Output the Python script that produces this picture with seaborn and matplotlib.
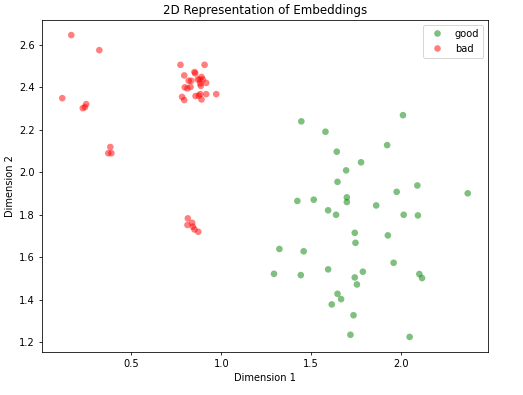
import matplotlib
matplotlib.use("Agg")
import matplotlib.pyplot as plt
import seaborn as sns
import pandas as pd

good_x = [1.445, 2.010, 1.579, 1.922, 1.642, 1.777, 1.694, 1.646, 2.090, 2.370,
          1.975, 1.423, 1.514, 1.698, 1.698, 1.861, 1.594, 1.638, 2.014, 2.093,
          1.742, 1.926, 1.746, 1.323, 1.458, 1.293, 1.442, 1.594, 1.958, 1.787,
          1.742, 1.754, 2.101, 2.116, 1.646, 1.666, 1.614, 1.735, 1.718, 2.047]
good_y = [2.239, 2.268, 2.190, 2.127, 2.096, 2.046, 2.008, 1.954, 1.937, 1.900,
          1.907, 1.864, 1.870, 1.881, 1.859, 1.843, 1.820, 1.799, 1.799, 1.796,
          1.714, 1.702, 1.667, 1.638, 1.627, 1.521, 1.515, 1.542, 1.573, 1.531,
          1.504, 1.471, 1.520, 1.501, 1.427, 1.402, 1.377, 1.326, 1.234, 1.224]

bad_x = [0.166, 0.322, 0.116, 0.230, 0.242, 0.249, 0.383, 0.372, 0.389,
         0.773, 0.907, 0.794, 0.851, 0.890, 0.833, 0.819, 0.869, 0.897, 0.916,
         0.883, 0.886, 0.797, 0.812, 0.829, 0.782, 0.794, 0.857, 0.883, 0.890,
         0.916, 0.972, 0.880, 0.855, 0.875,
         0.814, 0.812, 0.838, 0.842, 0.851, 0.872]
bad_y = [2.645, 2.574, 2.348, 2.301, 2.306, 2.320, 2.118, 2.089, 2.089,
         2.505, 2.505, 2.455, 2.471, 2.448, 2.430, 2.430, 2.436, 2.436, 2.420,
         2.417, 2.406, 2.399, 2.394, 2.401, 2.354, 2.339, 2.358, 2.367, 2.342,
         2.367, 2.367, 2.436, 2.465, 2.360,
         1.782, 1.751, 1.761, 1.743, 1.730, 1.719]

df = pd.DataFrame({
    "x": good_x + bad_x,
    "y": good_y + bad_y,
    "label": ["good"] * len(good_x) + ["bad"] * len(bad_x),
})

DPI = 71
fig, ax = plt.subplots(figsize=(523 / DPI, 395 / DPI), dpi=DPI)
sns.scatterplot(data=df, x="x", y="y", hue="label",
                palette={"good": "green", "bad": "red"},
                alpha=0.5, s=45, linewidth=0, ax=ax)
ax.set_title("2D Representation of Embeddings")
ax.set_xlabel("Dimension 1")
ax.set_ylabel("Dimension 2")
ax.legend(loc="upper right")
fig.subplots_adjust(left=42 / 523, right=488 / 523, top=1 - 20 / 395, bottom=1 - 352 / 395)
fig.savefig("out.png", dpi=DPI)
